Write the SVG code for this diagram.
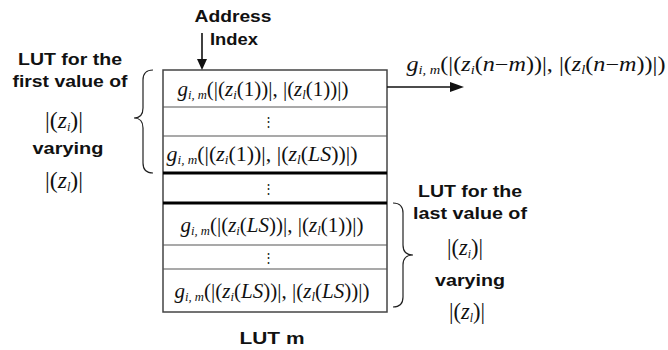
<svg xmlns="http://www.w3.org/2000/svg" width="668" height="350" viewBox="0 0 668 350">
  <style>
    .lbl { font-family: "Liberation Sans", Arial, sans-serif; font-weight: bold; font-size: 17px; fill: #111; text-anchor: middle; }
    .m { font-family: "Liberation Serif", "Times New Roman", serif; font-size: 20px; fill: #111; text-anchor: middle; }
    .big { font-size: 23px; }
    .it { font-style: italic; }
    .sub { font-size: 12px; font-style: italic; }
    .dots { font-family: "DejaVu Serif", serif; font-size: 13px; fill: #222; text-anchor: middle; }
    .row { stroke: #555; stroke-width: 1.2; fill: none; }
    .sep { stroke: #000; stroke-width: 3; }
    .wire { stroke: #111; stroke-width: 1.6; fill: none; }
    .brace { stroke: #222; stroke-width: 1.2; fill: none; }
  </style>

  <!-- look-up table block -->
  <g id="lut">
    <rect x="163" y="70" width="224" height="242" fill="#fff" stroke="#444" stroke-width="1.5"/>
    <line class="row" x1="163" y1="107" x2="387" y2="107"/>
    <line class="row" x1="163" y1="136" x2="387" y2="136"/>
    <line class="sep" x1="163" y1="173" x2="387" y2="173"/>
    <line class="sep" x1="163" y1="203" x2="387" y2="203"/>
    <line class="row" x1="163" y1="245" x2="387" y2="245"/>
    <line class="row" x1="163" y1="269" x2="387" y2="269"/>

    <text class="m" x="263" y="96" textLength="171" lengthAdjust="spacingAndGlyphs"><tspan class="it">g</tspan><tspan class="sub" dy="3">i, m</tspan><tspan dy="-3">(|(</tspan><tspan class="it">z</tspan><tspan class="sub" dy="3">i</tspan><tspan dy="-3">(1))|, |(</tspan><tspan class="it">z</tspan><tspan class="sub" dy="3">l</tspan><tspan dy="-3">(1))|)</tspan></text>
    <text class="dots" x="268" y="126">⋮</text>
    <text class="m" x="262" y="161" textLength="191" lengthAdjust="spacingAndGlyphs"><tspan class="it">g</tspan><tspan class="sub" dy="3">i, m</tspan><tspan dy="-3">(|(</tspan><tspan class="it">z</tspan><tspan class="sub" dy="3">i</tspan><tspan dy="-3">(1))|, |(</tspan><tspan class="it">z</tspan><tspan class="sub" dy="3">l</tspan><tspan dy="-3">(</tspan><tspan class="it">LS</tspan><tspan>))|)</tspan></text>
    <text class="dots" x="268" y="193">⋮</text>
    <text class="m" x="272" y="232" textLength="183" lengthAdjust="spacingAndGlyphs"><tspan class="it">g</tspan><tspan class="sub" dy="3">i, m</tspan><tspan dy="-3">(|(</tspan><tspan class="it">z</tspan><tspan class="sub" dy="3">i</tspan><tspan dy="-3">(</tspan><tspan class="it">LS</tspan><tspan>))|, |(</tspan><tspan class="it">z</tspan><tspan class="sub" dy="3">l</tspan><tspan dy="-3">(1))|)</tspan></text>
    <text class="dots" x="268" y="262">⋮</text>
    <text class="m" x="272" y="298" textLength="195" lengthAdjust="spacingAndGlyphs"><tspan class="it">g</tspan><tspan class="sub" dy="3">i, m</tspan><tspan dy="-3">(|(</tspan><tspan class="it">z</tspan><tspan class="sub" dy="3">i</tspan><tspan dy="-3">(</tspan><tspan class="it">LS</tspan><tspan>))|, |(</tspan><tspan class="it">z</tspan><tspan class="sub" dy="3">l</tspan><tspan dy="-3">(</tspan><tspan class="it">LS</tspan><tspan>))|)</tspan></text>

    <text class="lbl" x="272" y="344" textLength="65" lengthAdjust="spacingAndGlyphs">LUT m</text>
  </g>

  <!-- address input -->
  <g id="address">
    <text class="lbl" x="233" y="22" textLength="77" lengthAdjust="spacingAndGlyphs">Address</text>
    <text class="lbl" x="234" y="45" textLength="48" lengthAdjust="spacingAndGlyphs">Index</text>
  </g>

  <!-- output value -->
  <g id="output">
    <text class="m" x="536" y="71" textLength="259" lengthAdjust="spacingAndGlyphs"><tspan class="it">g</tspan><tspan class="sub" dy="3">i, m</tspan><tspan dy="-3">(|(</tspan><tspan class="it">z</tspan><tspan class="sub" dy="3">i</tspan><tspan dy="-3">(</tspan><tspan class="it">n</tspan><tspan>−</tspan><tspan class="it">m</tspan><tspan>))|, |(</tspan><tspan class="it">z</tspan><tspan class="sub" dy="3">l</tspan><tspan dy="-3">(</tspan><tspan class="it">n</tspan><tspan>−</tspan><tspan class="it">m</tspan><tspan>))|)</tspan></text>
  </g>

  <!-- note: first value block -->
  <g id="note-first">
    <text class="lbl" x="70" y="65" textLength="104" lengthAdjust="spacingAndGlyphs">LUT for the</text>
    <text class="lbl" x="70" y="87" textLength="115" lengthAdjust="spacingAndGlyphs">first value of</text>
    <text class="m big" x="64" y="128" textLength="38" lengthAdjust="spacingAndGlyphs">|(<tspan class="it">z</tspan><tspan class="sub" dy="3">i</tspan><tspan dy="-3">)|</tspan></text>
    <text class="lbl" x="68" y="154" textLength="71" lengthAdjust="spacingAndGlyphs">varying</text>
    <text class="m big" x="64" y="188" textLength="38" lengthAdjust="spacingAndGlyphs">|(<tspan class="it">z</tspan><tspan class="sub" dy="3">l</tspan><tspan dy="-3">)|</tspan></text>
  </g>

  <!-- note: last value block -->
  <g id="note-last">
    <text class="lbl" x="470" y="197" textLength="104" lengthAdjust="spacingAndGlyphs">LUT for the</text>
    <text class="lbl" x="470" y="219" textLength="114" lengthAdjust="spacingAndGlyphs">last value of</text>
    <text class="m big" x="465" y="255" textLength="36" lengthAdjust="spacingAndGlyphs">|(<tspan class="it">z</tspan><tspan class="sub" dy="3">i</tspan><tspan dy="-3">)|</tspan></text>
    <text class="lbl" x="470" y="286" textLength="70" lengthAdjust="spacingAndGlyphs">varying</text>
    <text class="m big" x="467" y="319" textLength="36" lengthAdjust="spacingAndGlyphs">|(<tspan class="it">z</tspan><tspan class="sub" dy="3">l</tspan><tspan dy="-3">)|</tspan></text>
  </g>

  <!-- connectors and braces -->
  <g id="connectors">
    <line class="wire" x1="202" y1="33" x2="202" y2="60"/>
    <polygon points="197,59 207,59 202,70" fill="#111"/>
    <line class="wire" x1="387" y1="87" x2="452" y2="87"/>
    <polygon points="450,82 450,92 464,87" fill="#111"/>
    <path class="brace" d="M153,70 Q143,70 143,80 L143,108 Q143,118 134,118 Q143,118 143,128 L143,163 Q143,173 153,173"/>
    <path class="brace" d="M393,203 Q403,203 403,213 L403,245 Q403,255 413,255 Q403,255 403,265 L403,297 Q403,307 393,307"/>
  </g>
</svg>
